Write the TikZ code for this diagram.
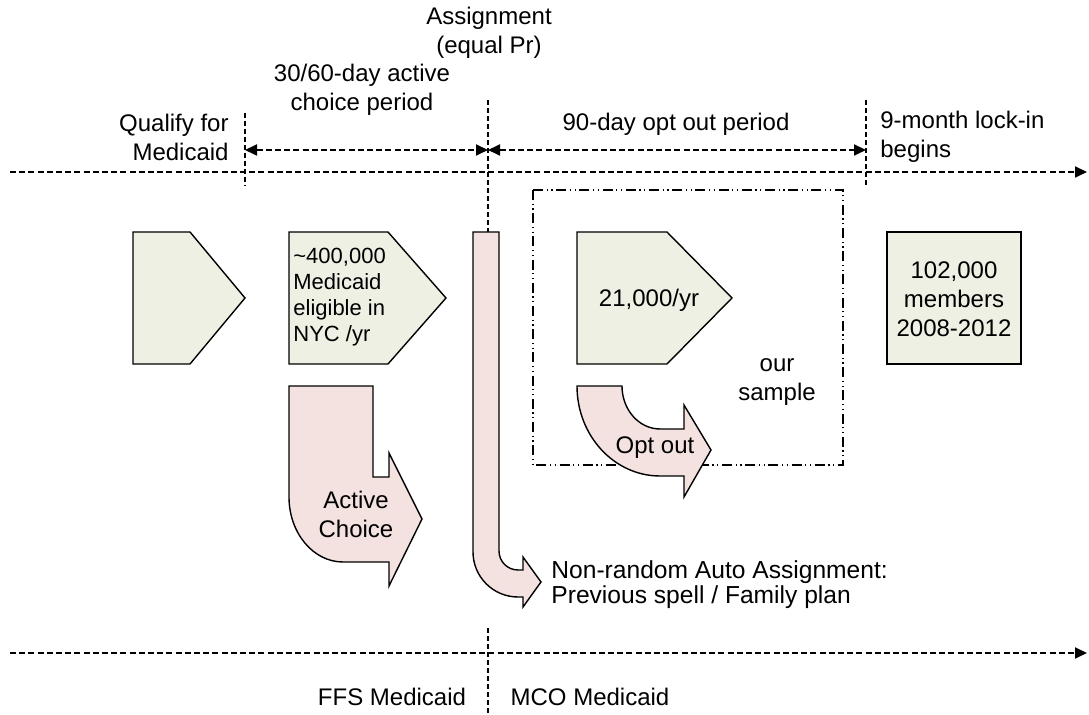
\documentclass[tikz,border=0pt]{standalone}
\usepackage{fontspec}
\setmainfont{Liberation Sans}
\usetikzlibrary{arrows.meta}
\definecolor{pgreen}{HTML}{EDF0E3}
\definecolor{ppink}{HTML}{F4E2E1}
\begin{document}
\begin{tikzpicture}[x=0.5pt,y=-0.5pt,
  every node/.style={font=\fontsize{12}{14.5}\selectfont, align=center, inner sep=0pt},
  smalltxt/.style={font=\fontsize{11}{13}\selectfont, align=left},
  tl/.style={line width=0.9pt, dash pattern=on 3pt off 1.6pt},
  tick/.style={line width=0.55pt, dash pattern=on 2.5pt off 1.5pt},
  tip/.style={-{Triangle[length=6pt,width=5.5pt]}},
  twotip/.style={{Triangle[length=6pt,width=5.5pt]}-{Triangle[length=6pt,width=5.5pt]}},
  greenbox/.style={draw, line width=0.7pt, fill=pgreen},
  pinkshape/.style={draw, line width=0.7pt, fill=ppink},
  samplebox/.style={line width=0.55pt, dash pattern=on 5pt off 1.8pt on 0.6pt off 1.8pt on 0.6pt off 1.8pt},
]
\useasboundingbox (0,0) rectangle (1089,715);
% coordinates of timelines
\coordinate (t0) at (10,172);
\coordinate (t1) at (1087,172);
\coordinate (b0) at (10,653);
\coordinate (b1) at (1087,653);
\coordinate (aTop) at (245,113);
\coordinate (aBot) at (245,186);
\coordinate (bTop) at (488,100);
\coordinate (bBot) at (488,232);
\coordinate (cTop) at (866,100);
\coordinate (cBot) at (866,186);
\coordinate (dTop) at (488,628);
\coordinate (dBot) at (488,715);
\coordinate (sA) at (245,150);
\coordinate (sB) at (488,150);
\coordinate (sC) at (866,150);

% timelines
\draw[tl,tip] (t0) -- (t1);
\draw[tl,tip] (b0) -- (b1);
\draw[tick] (aTop) -- (aBot);
\draw[tick] (bTop) -- (bBot);
\draw[tick] (cTop) -- (cBot);
\draw[tick] (dTop) -- (dBot);
\draw[tl,twotip] (sA) -- (sB);
\draw[tl,twotip] (sB) -- (sC);

% labels on top
\node[anchor=east, align=right] (qual) at (229,137) {Qualify for\\Medicaid};
\node (active) at (362,90) {30/60-day active\\choice period};
\node (assign) at (489,33) {Assignment\\(equal Pr)};
\node (optper) at (676,124) {90-day opt out period};
\node[anchor=west, align=left] (lock) at (880,137) {9-month lock-in\\begins};

% sample box
\draw[samplebox] (533,190) rectangle (843,465);
\node (sample) at (777,382) {our\\sample};

% green shapes
\draw[greenbox] (133,232) -- (190,232) -- (245,298) -- (190,364) -- (133,364) -- cycle;
\draw[greenbox] (289,232) -- (388,232) -- (446,298) -- (388,364) -- (289,364) -- cycle;
\node[smalltxt, anchor=west] (elig) at (293,297) {\textasciitilde400,000\\Medicaid\\eligible in\\NYC /yr};
\draw[greenbox] (577,232) -- (667,232) -- (732,298) -- (667,364) -- (577,364) -- cycle;
\node (n21) at (649,300) {21,000/yr};
\draw[greenbox] (887,232) rectangle (1021,364);
\node (n102) at (954,299) {102,000\\members\\2008-2012};

% pink arrows
\draw[pinkshape] (289,386) -- (373,386) -- (373,477) -- (389,477) -- (389,453) -- (422,519) -- (389,586) -- (389,562) -- (343,562)
  .. controls (313.2,562) and (289,532.9) .. (289,497) -- cycle;
\node (achoice) at (356,514) {Active\\Choice};

\draw[pinkshape] (473,232) -- (499,232) -- (499,551) .. controls (499,561.5) and (507.5,570) .. (518,570) -- (523,570) -- (523,557)
  -- (541,582) -- (523,607) -- (523,597) -- (518,597) .. controls (493.2,597) and (473,576.8) .. (473,552) -- cycle;
\node[smalltxt, anchor=west, font=\fontsize{12.3}{12.5}\selectfont] (auto) at (551,585) {Non-random Auto Assignment:\\Previous spell / Family plan};

\draw[pinkshape] (577,386) -- (622,386) .. controls (622,409.7) and (639,429) .. (660,429) -- (684,429) -- (684,405) -- (711,450)
  -- (684,497) -- (684,476) -- (660,476) .. controls (614.2,476) and (577,435.7) .. (577,386) -- cycle;
\node (optout) at (655,448) {Opt out};

% bottom labels
\node (ffs) at (392,697) {FFS Medicaid};
\node (mco) at (590,697) {MCO Medicaid};
\end{tikzpicture}
\end{document}
